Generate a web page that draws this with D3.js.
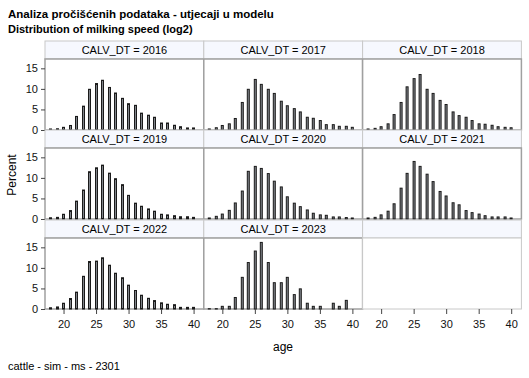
<!DOCTYPE html>
<html><head><meta charset="utf-8">
<script src="https://cdn.jsdelivr.net/npm/d3@7"></script>
<style>body{margin:0;background:#fff}svg{display:block;font-family:"Liberation Sans",Arial,sans-serif}</style>
</head><body>
<script>
const ages = d3.range(18, 41);
const years = [2016, 2017, 2018, 2019, 2020, 2021, 2022, 2023];
const v2016 = [0.25,0.3,0.65,1.1,3.3,5.8,9.9,11.3,12.1,10.35,9.0,7.7,6.4,6.0,4.1,3.6,3.1,1.7,1.7,1.15,0.8,0.5,0.5];
const v2017 = [0.25,0.55,1.1,1.5,2.8,6.7,9.9,12.3,11.1,9.9,8.9,7.0,5.9,5.2,4.4,3.1,2.85,2.3,1.3,1.3,0.9,0.9,0.65];
const v2018 = [0.25,0.4,0.8,1.5,3.75,6.7,10.5,12.5,13.5,9.9,8.9,7.2,6.2,4.4,3.5,3.1,2.3,1.5,1.4,1.15,0.8,0.65,0.55];
const v2019 = [0.3,0.4,1.15,2.05,4.35,7.05,11.5,12.45,13.1,11.15,9.8,8.35,5.75,3.85,3.1,2.45,1.9,1.15,1.0,0.8,0.55,0.55,0.4];
const v2020 = [0.25,0.65,1.2,2.1,3.9,6.8,11.6,12.8,12.3,11.05,9.2,7.8,5.4,3.85,3.0,2.2,1.4,1.0,0.9,0.5,0.5,0.35,0.25];
const v2021 = [0.25,0.4,1.0,1.9,3.7,7.5,11.1,14.0,12.8,10.9,9.1,6.7,5.6,3.95,3.45,2.05,1.55,1.2,0.8,0.5,0.5,0.5,0.25];
const v2022 = [0.3,0.5,1.4,2.55,4.1,7.95,11.55,11.65,12.45,10.65,8.7,7.6,5.8,4.5,3.35,2.6,2.05,1.5,1.15,1.05,0.4,0.4,0.4];
const v2023 = [0.08,0.08,0.65,0.65,2.8,7.7,11.3,14.1,16.2,11.3,6.4,6.4,7.7,3.5,4.9,1.4,0.65,0.65,0,1.4,0.65,2.1,0];
const series = [v2016, v2017, v2018, v2019, v2020, v2021, v2022, v2023];
const yTicks = [0, 5, 10, 15];
const xTicks = [20, 25, 30, 35, 40];
const titles = ["Analiza pročišćenih podataka - utjecaji u modelu", "Distribution of milking speed (log2)"];

const W = 529, H = 378;
const svg = d3.select("body").append("svg").attr("width", W).attr("height", H);

const gridL = 45, colW = 158.8, headH = 18, plotH = 71, rowTop = [41, 130, 220];
const x = d3.scaleLinear().domain([17.15, 41.57]).range([0, colW]);
const y = d3.scaleLinear().domain([0, 17.27]).range([plotH, 0]);

svg.append("text").attr("x", 8).attr("y", 18).attr("font-size", 11.5).attr("font-weight", "bold").text(titles[0]);
svg.append("text").attr("x", 8).attr("y", 33).attr("font-size", 11).attr("font-weight", "bold").text(titles[1]);

for (let i = 0; i < 9; i++) {
  const r = Math.floor(i / 3), c = i % 3;
  const gx = gridL + c * colW, gy = rowTop[r];
  const g = svg.append("g").attr("transform", `translate(${gx},${gy})`);
  const empty = i >= years.length;
  g.append("rect").attr("x", 0).attr("y", 0).attr("width", colW).attr("height", headH)
    .attr("fill", "#f6f8fe").attr("stroke", "#c8c8c8");
  if (!empty) {
    g.append("text").attr("x", colW / 2).attr("y", 13).attr("text-anchor", "middle")
      .attr("font-size", 11).text(`CALV_DT = ${years[i]}`);
  }
  const p = g.append("g").attr("transform", `translate(0,${headH})`);
  p.append("rect").attr("width", colW).attr("height", plotH).attr("fill", "#fff")
    .attr("stroke", empty ? "#c8c8c8" : "#a0a0a0").attr("stroke-width", empty ? 1 : 1.5);
  if (!empty) {
    p.selectAll("rect.bar").data(series[i].map((v, k) => ({a: ages[k], v})).filter(d => d.v > 0))
      .join("rect").attr("class", "bar")
      .attr("x", d => Math.round(x(d.a) - 1.5) + 0.5).attr("width", 2)
      .attr("y", d => y(d.v)).attr("height", d => y(0) - y(d.v))
      .attr("fill", "#80848a").attr("stroke", "#1a1a1a").attr("stroke-width", 1);
  }
  if (c === 0) {
    const ay = p.append("g").call(d3.axisLeft(y).tickValues(yTicks).tickSize(4).tickPadding(3));
    ay.select(".domain").remove();
    ay.selectAll("line").attr("stroke", "#444");
    ay.selectAll("text").attr("font-size", 11).attr("font-family", "Liberation Sans,Arial,sans-serif").attr("fill", "#111");
  }
  if (r === 2) {
    const ax = p.append("g").attr("transform", `translate(0,${plotH})`)
      .call(d3.axisBottom(x).tickValues(xTicks).tickSize(5).tickPadding(6));
    ax.select(".domain").remove();
    ax.selectAll("line").attr("stroke", "#444");
    ax.selectAll("text").attr("font-size", 11).attr("font-family", "Liberation Sans,Arial,sans-serif").attr("fill", "#111");
  }
}

svg.append("text").attr("transform", "translate(16,175) rotate(-90)").attr("text-anchor", "middle")
  .attr("font-size", 12).text("Percent");
svg.append("text").attr("x", 283).attr("y", 351).attr("text-anchor", "middle").attr("font-size", 12).text("age");
svg.append("text").attr("x", 8).attr("y", 370).attr("font-size", 11).text("cattle - sim - ms - 2301");
</script>
</body></html>
